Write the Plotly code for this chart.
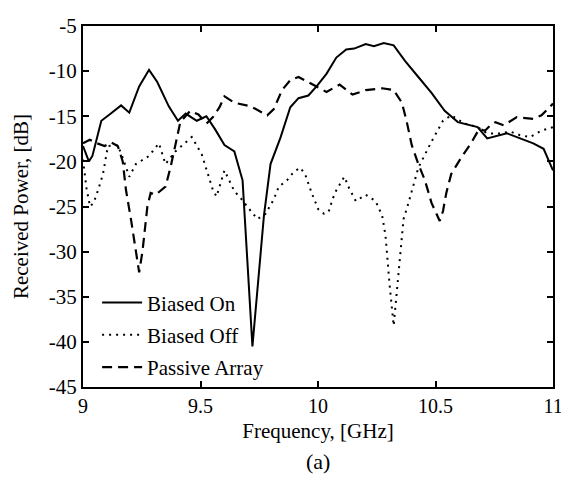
import plotly.graph_objects as go

# Biased On (solid)
f_on = [9.0, 9.025, 9.04, 9.078, 9.113, 9.162, 9.197, 9.239, 9.281, 9.316, 9.365, 9.404,
        9.437, 9.484, 9.525, 9.561, 9.602, 9.644, 9.679, 9.721, 9.77, 9.798, 9.84, 9.882,
        9.917, 9.959, 9.994, 10.036, 10.078, 10.12, 10.154, 10.203, 10.238, 10.28, 10.322,
        10.371, 10.427, 10.483, 10.539, 10.595, 10.679, 10.72, 10.804, 10.86, 10.916, 10.96, 11.0]
on = [-18.3, -20.0, -19.4, -15.5, -14.8, -13.8, -14.6, -11.7, -9.86, -11.2, -13.9, -15.5,
      -14.7, -15.5, -15.0, -16.4, -18.2, -18.9, -22.1, -40.5, -26.0, -20.3, -17.4, -14.0,
      -13.0, -12.7, -11.7, -10.3, -8.5, -7.6, -7.5, -7.0, -7.25, -6.9, -7.15,
      -8.9, -10.65, -12.4, -14.4, -15.65, -16.2, -17.45, -16.9, -17.45, -18.0, -18.6, -21.0]

# Biased Off (dotted)
f_off = [9.0, 9.015, 9.03, 9.045, 9.064, 9.085, 9.106, 9.148, 9.169, 9.197, 9.225, 9.281,
         9.323, 9.351, 9.393, 9.463, 9.505, 9.532, 9.553, 9.568, 9.602, 9.644, 9.672, 9.714,
         9.742, 9.777, 9.812, 9.833, 9.868, 9.896, 9.924, 9.945, 9.973, 10.001, 10.025, 10.045,
         10.063, 10.078, 10.112, 10.133, 10.161, 10.203, 10.245, 10.273, 10.287, 10.294, 10.304,
         10.322, 10.336, 10.35, 10.364, 10.385, 10.427, 10.483, 10.532, 10.567, 10.623, 10.679,
         10.72, 10.777, 10.818, 10.86, 10.902, 10.95, 11.0]
off = [-19.8, -23.0, -25.0, -24.6, -23.2, -21.4, -18.3, -18.2, -19.6, -21.7, -20.3, -19.4,
       -18.0, -20.3, -18.9, -17.3, -19.2, -21.4, -23.2, -23.9, -21.0, -23.3, -24.1, -25.5,
       -26.4, -25.8, -24.2, -22.8, -22.1, -21.2, -20.7, -21.4, -23.5, -25.3, -25.8, -25.6,
       -24.1, -23.2, -21.7, -23.0, -24.4, -23.7, -24.4, -26.0, -28.2, -30.3, -33.5,
       -38.2, -34.3, -30.0, -26.4, -24.6, -20.7, -17.8, -15.5, -14.9, -15.8, -16.2,
       -16.9, -16.9, -16.7, -17.1, -17.3, -16.6, -16.2]

# Passive Array (dashed)
f_pa = [9.0, 9.029, 9.06, 9.092, 9.12, 9.148, 9.169, 9.183, 9.204, 9.225, 9.239, 9.253,
        9.274, 9.288, 9.309, 9.351, 9.372, 9.393, 9.414, 9.456, 9.491, 9.526, 9.553, 9.581,
        9.602, 9.644, 9.714, 9.784, 9.812, 9.847, 9.882, 9.917, 9.959, 9.994, 10.036, 10.092,
        10.147, 10.203, 10.273, 10.322, 10.357, 10.378, 10.399, 10.427, 10.455, 10.483, 10.518,
        10.532, 10.546, 10.567, 10.609, 10.651, 10.686, 10.71, 10.734, 10.755, 10.79, 10.846,
        10.916, 10.951, 10.986, 11.0]
pa = [-18.0, -17.6, -18.0, -18.3, -17.9, -18.3, -20.0, -23.2, -26.4, -30.0, -32.3, -30.0,
      -25.0, -23.5, -23.7, -22.8, -20.7, -18.2, -15.65, -14.4, -14.8, -15.8, -15.1, -14.0,
      -12.8, -13.5, -13.9, -14.9, -14.2, -12.1, -11.0, -10.65, -11.2, -11.7, -12.3, -11.5,
      -12.6, -12.1, -11.9, -12.1, -13.5, -15.65, -18.2, -20.3, -22.1, -24.6, -26.6,
      -25.5, -23.5, -21.4, -19.6, -18.0, -16.4, -16.6, -16.0, -15.65, -16.0, -15.1,
      -15.3, -14.9, -14.0, -13.6]

x_ticks = [9, 9.5, 10, 10.5, 11]
x_ticktext = ["9", "9.5", "10", "10.5", "11"]
y_ticks = [-45, -40, -35, -30, -25, -20, -15, -10, -5]
y_ticktext = ["-45", "-40", "-35", "-30", "-25", "-20", "-15", "-10", "-5"]

FONT = "Liberation Serif, Times New Roman, serif"
FS = 21

fig = go.Figure()
fig.add_trace(go.Scatter(x=f_on, y=on, mode="lines", name="Biased On", legendgroup="a",
                         line=dict(color="black", width=2)))
fig.add_trace(go.Scatter(x=f_off, y=off, mode="lines", name="Biased Off", legendgroup="b",
                         line=dict(color="black", width=2, dash="2px,5px")))
fig.add_trace(go.Scatter(x=f_pa, y=pa, mode="lines", name="Passive Array", legendgroup="c",
                         line=dict(color="black", width=2.2, dash="10px,6px")))

axis_common = dict(showline=True, linecolor="black", linewidth=2, mirror="ticks",
                   ticks="inside", ticklen=6, tickwidth=1.5, tickcolor="black",
                   showgrid=False, zeroline=False, ticklabeloverflow="allow")

fig.update_xaxes(range=[9, 11], tickvals=x_ticks, ticktext=x_ticktext,
                 tickfont=dict(family=FONT, size=20, color="black"),
                 title=dict(text="Frequency, [GHz]", font=dict(family=FONT, size=FS), standoff=7),
                 **axis_common)
fig.update_yaxes(range=[-45, -5], tickvals=y_ticks, ticktext=y_ticktext,
                 tickfont=dict(family=FONT, size=FS, color="black"),
                 title=dict(text="Received Power, [dB]", font=dict(family=FONT, size=FS), standoff=14),
                 **axis_common)

# page body has an 8px default margin, so the figure is sized to fit the 569x492 window
fig.update_layout(
    width=561, height=484,
    margin=dict(l=75, r=9, t=6, b=105),
    paper_bgcolor="white", plot_bgcolor="white",
    font=dict(family=FONT, size=FS, color="black"),
    showlegend=True,
    legend=dict(x=0.03, y=0.29, xanchor="left", yanchor="top",
                bgcolor="rgba(0,0,0,0)", tracegroupgap=2, itemwidth=40,
                font=dict(family=FONT, size=FS, color="black")),
    annotations=[dict(text="(a)", x=0.5, y=-0.205, xref="paper", yref="paper",
                      xanchor="center", yanchor="middle", showarrow=False,
                      font=dict(family=FONT, size=22, color="black"))],
)

fig.write_html("out.html")
